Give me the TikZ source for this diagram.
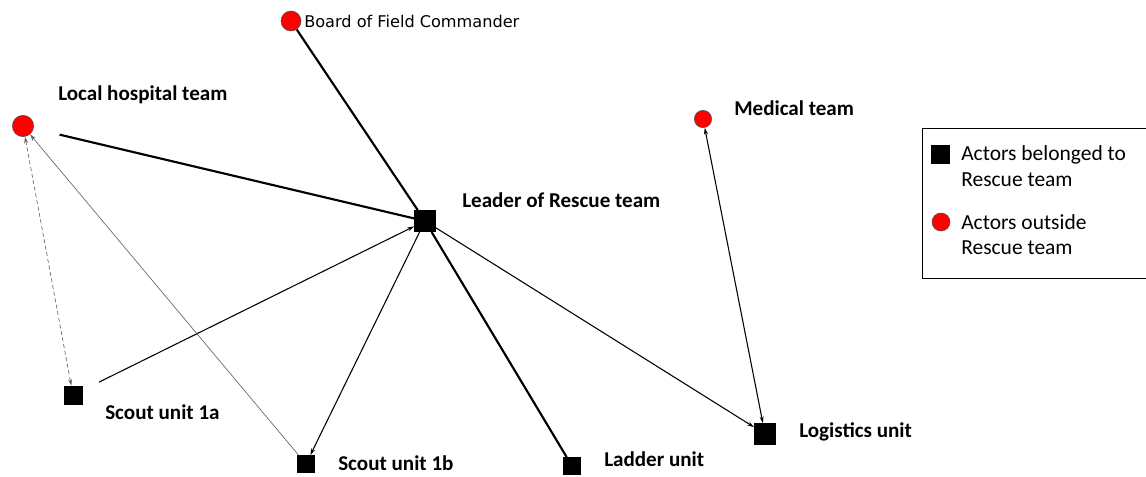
\documentclass[tikz,border=0pt]{standalone}
\usepackage{fontspec}
\setmainfont{Carlito}
\newfontfamily\boardfont{DejaVu Sans}
\usetikzlibrary{arrows.meta}
\tikzset{inside/.style={
        draw=black,
        fill=black,
        rectangle,
        inner sep=0pt } }
\tikzset{outside/.style={
        draw=black!70,
        fill=red,
        circle,
        inner sep=0pt } }
\tikzset{actorlabel/.style={ anchor=west, inner sep=0pt, font=\fontsize{15.8}{18}\selectfont\bfseries } }
\tikzset{legendtext/.style={ anchor=west, inner sep=0pt, font=\fontsize{16.1}{18}\selectfont } }
\tikzset{strong/.style={ line width=1.6pt } }
\tikzset{weak/.style={ line width=0.8pt } }
\tikzset{faint/.style={ line width=0.5pt, black!60 } }
\tikzset{tip/.style={ -{Stealth[length=5pt,width=3pt]} } }
\tikzset{bothtip/.style={ {Stealth[length=5pt,width=3pt]}-{Stealth[length=5pt,width=3pt]} } }

\begin{document}
\begin{tikzpicture}[x=0.75pt,y=-0.75pt] %[pixels of the reference]

\useasboundingbox (0,0) rectangle (1146,477);

\node[outside, minimum size=15pt] (board) at (291,21) {};
\node[outside, minimum size=16pt] (hosp) at (23,126) {};
\node[outside, minimum size=13pt] (med) at (703,119) {};

\node[inside, minimum size=16pt] (leader) at (425,221) {};
\node[inside, minimum size=13.5pt] (scouta) at (73,395) {};
\node[inside, minimum size=13pt] (scoutb) at (306,464) {};
\node[inside, minimum size=13pt] (ladder) at (572,466) {};
\node[inside, minimum size=16pt] (logist) at (765,434) {};

%%LABELS
\node[anchor=west, inner sep=0pt, font=\boardfont\fontsize{12.1}{14}\selectfont] (boardlab) at (304,21) {Board of Field Commander};
\node[actorlabel] (hosplab) at (58,95) {Local hospital team};
\node[actorlabel] (medlab) at (734,108) {Medical team};
\node[actorlabel] (leaderlab) at (462,200) {Leader of Rescue team};
\node[actorlabel] (scoutalab) at (105,412) {Scout unit 1a};
\node[actorlabel] (scoutblab) at (338,463) {Scout unit 1b};
\node[actorlabel] (ladderlab) at (604,459) {Ladder unit};
\node[actorlabel] (logistlab) at (799,432) {Logistics unit};

%%LEGEND
\node[draw, line width=0.8pt, minimum width=168pt, minimum height=112.5pt, anchor=north west] (legend) at (922,128) {};
\node[inside, minimum size=13.5pt] (legsq) at (940,154) {};
\node[legendtext] (legsqa) at (961,155) {Actors belonged to};
\node[legendtext] (legsqb) at (961,180) {Rescue team};
\node[outside, minimum size=13.5pt] (legci) at (941,222) {};
\node[legendtext] (legcia) at (961,222) {Actors outside};
\node[legendtext] (legcib) at (961,248) {Rescue team};

%%TIES
\draw[strong] (board) -- (leader);
\draw[strong, shorten <=20pt] (hosp) -- (leader);
\draw[strong] (leader) -- (ladder);
\draw[weak, tip, shorten <=14pt] (scouta) -- (leader);
\draw[weak, tip] (leader) -- (scoutb);
\draw[weak, tip] (leader) -- (logist);
\draw[weak, bothtip] (med) -- (logist);
\draw[faint, tip] (scoutb) -- (hosp);
\draw[faint, densely dashed, bothtip] (hosp) -- (scouta);

\end{tikzpicture}
\end{document}
